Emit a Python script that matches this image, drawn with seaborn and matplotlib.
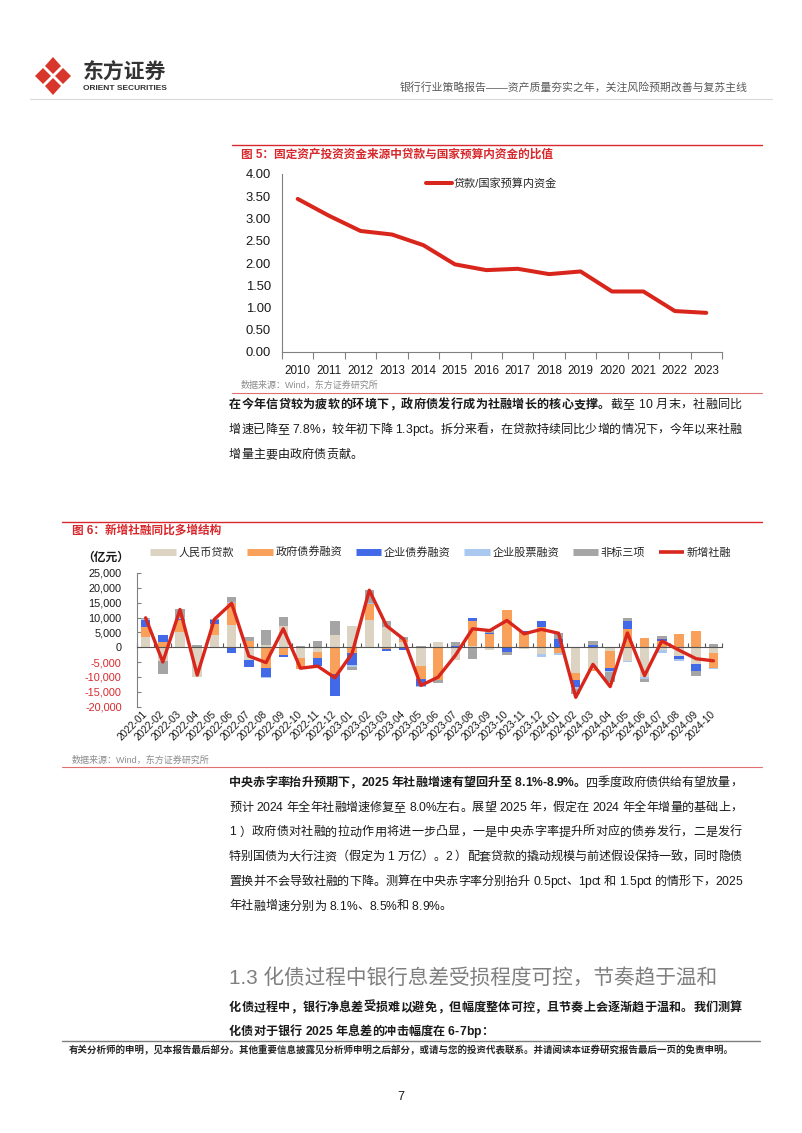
import numpy as np
import pandas as pd
import matplotlib
matplotlib.use("Agg")
import matplotlib.pyplot as plt
import seaborn as sns
from matplotlib.lines import Line2D
from matplotlib.patches import Polygon

# ---------------- data ----------------
years = ['2010', '2011', '2012', '2013', '2014', '2015', '2016',
         '2017', '2018', '2019', '2020', '2021', '2022', '2023']
loan_budget_ratio = [3.44, 3.06, 2.72, 2.64, 2.40, 1.97, 1.84,
                     1.87, 1.75, 1.81, 1.36, 1.36, 0.92, 0.88]

months = ['2022-01', '2022-02', '2022-03', '2022-04', '2022-05', '2022-06',
          '2022-07', '2022-08', '2022-09', '2022-10', '2022-11', '2022-12',
          '2023-01', '2023-02', '2023-03', '2023-04', '2023-05', '2023-06',
          '2023-07', '2023-08', '2023-09', '2023-10', '2023-11', '2023-12',
          '2024-01', '2024-02', '2024-03', '2024-04', '2024-05', '2024-06',
          '2024-07', '2024-08', '2024-09', '2024-10']
rmb_loans = [3500, -4800, 5200, -9900, 4000, 7400, -4400, 700, 7000, -3600,
             -1600, 4000, 7200, 9100, 6900, 1800, -6300, 1700, -4400, 300,
             -1100, 0, -600, -2200, 200, -8800, -7300, -1300, -4600, -9900,
             -800, -2900, -5700, -1800]
gov_bonds = [3400, 1800, 3900, 200, 3700, 7500, 2000, -6900, -2500, -3600,
             -1900, -9100, -2000, 5400, -500, 500, -4500, -10900, 0, 8600,
             4400, 12500, 5000, 6700, -1800, -2100, -800, -5600, 6000, 3000,
             2000, 4400, 5300, -5300]
corp_bonds = [2200, 2300, 500, 0, 1300, -1800, -2200, -3100, -800, 0,
              -2900, -7300, -4000, 200, -700, -800, -2300, 0, 300, 1100,
              400, -1500, 500, 2000, 2500, -2400, 800, -1100, 2700, 0,
              900, -1100, -2500, 0]
corp_equity = [300, 0, 300, 0, 200, 300, 0, -300, 0, 0,
               0, 0, -800, 300, 0, 0, -200, 0, 0, -200,
               0, -200, 0, -1000, -700, -800, 0, -500, -300, -800,
               -1000, -600, 0, -300]
non_standard = [600, -4400, 2800, 500, 400, 1600, 1300, 5000, 3200, 300,
                2000, 4800, -800, 4200, 1800, 1000, 300, -1100, 1300, -3800,
                900, -900, 0, 0, 2200, -1800, 1400, -3300, 1000, -900,
                800, 0, -1500, 1000]
new_tsf = [9900, -5000, 12700, -9400, 9400, 14800, -3000, -5200, 6200, -7100,
           -6400, -10300, -2100, 19200, 7200, 2700, -12900, -10100, -2800, 6200,
           5600, 9000, 4500, 6000, 4700, -16900, -5800, -13300, 4800, -9600,
           2100, -1000, -3900, -4600]
series_names = ['人民币贷款', '政府债券融资', '企业债券融资', '企业股票融资', '非标三项', '新增社融']
y2_ticks = [-20000, -15000, -10000, -5000, 0, 5000, 10000, 15000, 20000, 25000]
y1_ticks = [0.0, 0.5, 1.0, 1.5, 2.0, 2.5, 3.0, 3.5, 4.0]

# ---------------- style ----------------
sns.set_theme(style="white")
FAM = ['Liberation Sans', 'Noto Sans CJK SC', 'DejaVu Sans']
plt.rcParams['font.family'] = FAM
plt.rcParams['axes.unicode_minus'] = False

RED = '#D9261C'
TITLE_RED = '#D8282C'
C_LOAN = '#DDD3C3'
C_GOV = '#F9A05A'
C_CORP = '#4169E8'
C_EQ = '#A8C8F0'
C_NS = '#A5A5A5'
TXT = '#1A1A1A'
GRAY = '#808080'

W, H = 802, 1133
fig = plt.figure(figsize=(W / 100, H / 100), dpi=100)
fig.patch.set_facecolor('white')


def fx(x):
    return x / W


def fy(y):
    return 1 - y / H


def hline(y, x0, x1, color, lw):
    fig.add_artist(Line2D([fx(x0), fx(x1)], [fy(y), fy(y)], color=color, lw=lw,
                          transform=fig.transFigure))


renderer = fig.canvas.get_renderer()
_cache = {}


def text_w(s, weight, size):
    t = fig.text(0, 0, s, fontsize=size, fontweight=weight)
    w = t.get_window_extent(renderer=renderer).width
    t.remove()
    return w


def char_w(c, weight, size):
    key = (c, weight, size)
    if key not in _cache:
        if c == ' ':
            _cache[key] = text_w('x x', weight, size) - text_w('xx', weight, size)
        else:
            _cache[key] = text_w(c, weight, size)
    return _cache[key]


def draw_line(y, segs, x0=229, x1=742, size=8.7, justify=True, color=TXT):
    chars = [(c, wt) for s, wt in segs for c in s]
    ws = [char_w(c, wt, size) for c, wt in chars]
    extra = (x1 - x0 - sum(ws)) / (len(chars) - 1) if (justify and len(chars) > 1) else 0
    x = x0
    for (c, wt), w in zip(chars, ws):
        if c != ' ':
            fig.text(fx(x), fy(y), c, fontsize=size, fontweight=wt, color=color,
                     ha='left', va='baseline')
        x += w + extra


# ---------------- header ----------------
logo_parts = [
    [(53, 57), (61, 66), (53, 74), (45, 66)],
    [(43, 68), (51, 76), (43, 84), (35, 76)],
    [(63, 68), (71, 76), (63, 84), (55, 76)],
    [(53, 78), (61, 86), (53, 95), (45, 86)],
]
for pts in logo_parts:
    fig.add_artist(Polygon([(fx(a), fy(b)) for a, b in pts], closed=True,
                           facecolor='#D9362B', edgecolor='none',
                           transform=fig.transFigure))
fig.text(fx(83), fy(73), '东方证券', fontsize=15, fontweight='bold', color='#333333',
         ha='left', va='center')
fig.text(fx(83), fy(88), 'ORIENT SECURITIES', fontsize=6, fontweight='bold', color='#333333',
         ha='left', va='center')
fig.text(fx(748), fy(87), '银行行业策略报告——资产质量夯实之年，关注风险预期改善与复苏主线',
         fontsize=7.8, color='#595959', ha='right', va='center')
hline(99, 30, 772, '#D9D9D9', 0.8)

# ---------------- chart 1 ----------------
hline(145, 232, 762, TITLE_RED, 1.0)
fig.text(fx(241), fy(155), '图 5：固定资产投资资金来源中贷款与国家预算内资金的比值',
         fontsize=8.4, fontweight='bold', color=TITLE_RED, ha='left', va='center')

ax1 = fig.add_axes([fx(282), fy(352), (722 - 282) / W, (352 - 174) / H])
df1 = pd.DataFrame({'pos': np.arange(len(years)), 'ratio': loan_budget_ratio})
sns.lineplot(data=df1, x='pos', y='ratio', ax=ax1, color=RED, lw=2.9,
             label='贷款/国家预算内资金')
ax1.set_xlim(-0.5, len(years) - 0.5)
ax1.set_ylim(0, 4)
ax1.set_yticks(y1_ticks)
ax1.set_yticklabels([f'{v:.2f}' for v in y1_ticks], fontsize=9.4, color=TXT)
ax1.set_xticks(np.arange(len(years)))
ax1.set_xticklabels(years, fontsize=8.4, color=TXT)
ax1.set_xticks(np.arange(-0.5, len(years), 1), minor=True)
ax1.tick_params(axis='x', which='major', length=0, pad=9)
ax1.tick_params(axis='x', which='minor', length=5, direction='out', color=GRAY, width=0.8, bottom=True)
ax1.tick_params(axis='y', length=0, pad=8)
ax1.set_xlabel('')
ax1.set_ylabel('')
for s in ['top', 'right']:
    ax1.spines[s].set_visible(False)
for s in ['left', 'bottom']:
    ax1.spines[s].set_color(GRAY)
    ax1.spines[s].set_linewidth(0.8)
ax1.legend(loc='upper left', bbox_to_anchor=(fx(426), fy(178)), bbox_transform=fig.transFigure,
           frameon=False, fontsize=8, handlelength=2.3, handletextpad=0.2, borderaxespad=0,
           borderpad=0)
fig.text(fx(241), fy(385), '数据来源：Wind，东方证券研究所', fontsize=6.5, color='#8C8C8C',
         ha='left', va='center')
hline(393, 232, 762, '#E07070', 0.8)

# ---------------- paragraph 1 ----------------
draw_line(408, [('在今年信贷较为疲软的环境下，政府债发行成为社融增长的核心支撑。', 'bold'),
                ('截至 10 月末，社融同比', 'normal')])
draw_line(433, [('增速已降至 7.8%，较年初下降 1.3pct。拆分来看，在贷款持续同比少增的情况下，今年以来社融', 'normal')])
draw_line(458, [('增量主要由政府债贡献。', 'normal')], justify=False)

# ---------------- chart 2 ----------------
hline(522, 62, 762, TITLE_RED, 1.0)
fig.text(fx(72), fy(531), '图 6：新增社融同比多增结构', fontsize=8.4, fontweight='bold',
         color=TITLE_RED, ha='left', va='center')
fig.text(fx(106), fy(558), '（亿元）', fontsize=8.5, fontweight='bold', color=TXT,
         ha='center', va='center')

ax2 = fig.add_axes([fx(137), fy(706.5), (722 - 137) / W, (706.5 - 573) / H])
xpos = np.arange(len(months))
pos_base = np.zeros(len(months))
neg_base = np.zeros(len(months))
components = [(rmb_loans, C_LOAN), (gov_bonds, C_GOV), (corp_bonds, C_CORP),
              (corp_equity, C_EQ), (non_standard, C_NS)]
for vals, col in components:
    v = np.asarray(vals, dtype=float)
    bottom = np.where(v >= 0, pos_base, neg_base)
    ax2.bar(xpos, v, bottom=bottom, width=0.55, color=col, linewidth=0, zorder=2)
    pos_base += np.clip(v, 0, None)
    neg_base += np.clip(v, None, 0)
df2 = pd.DataFrame({'pos': xpos, 'tsf': new_tsf})
sns.lineplot(data=df2, x='pos', y='tsf', ax=ax2, color=RED, lw=2.4, zorder=4)

ax2.set_xlim(-0.5, len(months) - 0.5)
ax2.set_ylim(-20000, 25000)
ax2.set_yticks(y2_ticks)
ax2.set_yticklabels([f'{v:,}' for v in y2_ticks], fontsize=7.8)
for lab, v in zip(ax2.get_yticklabels(), y2_ticks):
    lab.set_color(TITLE_RED if v < 0 else TXT)
ax2.tick_params(axis='y', length=3, direction='in', color=GRAY, width=0.8, pad=11, left=True)
ax2.spines['bottom'].set_position(('data', 0))
ax2.set_xticks(np.arange(-0.5, len(months), 1))
ax2.set_xticklabels([])
ax2.set_xticks(xpos, minor=True)
ax2.set_xticklabels(months, minor=True, fontsize=7.3, color=TXT)
ax2.tick_params(axis='x', which='major', length=3, direction='in', color='#555555', width=0.8,
                bottom=True)
ax2.tick_params(axis='x', which='minor', length=0, pad=47, labelrotation=45, bottom=True)
for lab in ax2.get_xticklabels(minor=True):
    lab.set_ha('right')
    lab.set_va('center')
    lab.set_rotation_mode('anchor')
ax2.set_xlabel('')
ax2.set_ylabel('')
for s in ['top', 'right']:
    ax2.spines[s].set_visible(False)
ax2.spines['left'].set_color(GRAY)
ax2.spines['left'].set_linewidth(0.8)
ax2.spines['bottom'].set_color('#555555')
ax2.spines['bottom'].set_linewidth(0.8)
handles = [Line2D([], [], color=C_LOAN, lw=5, solid_capstyle='butt'),
           Line2D([], [], color=C_GOV, lw=5, solid_capstyle='butt'),
           Line2D([], [], color=C_CORP, lw=5, solid_capstyle='butt'),
           Line2D([], [], color=C_EQ, lw=5, solid_capstyle='butt'),
           Line2D([], [], color=C_NS, lw=5, solid_capstyle='butt'),
           Line2D([], [], color=RED, lw=2.6, solid_capstyle='butt')]
ax2.legend(handles, series_names, loc='center left', bbox_to_anchor=(fx(150), fy(552)),
           bbox_transform=fig.transFigure, ncol=6, frameon=False, fontsize=8,
           handlelength=2.3, handletextpad=0.25, columnspacing=1.2, borderaxespad=0,
           borderpad=0)
fig.text(fx(72), fy(760), '数据来源：Wind，东方证券研究所', fontsize=6.5, color='#8C8C8C',
         ha='left', va='center')
hline(767, 62, 762, '#E07070', 0.8)

# ---------------- paragraph 2 ----------------
base = 786
step = 24.7
draw_line(base, [('中央赤字率抬升预期下，2025 年社融增速有望回升至 8.1%-8.9%。', 'bold'),
                 ('四季度政府债供给有望放量，', 'normal')])
draw_line(base + step, [('预计 2024 年全年社融增速修复至 8.0%左右。展望 2025 年，假定在 2024 年全年增量的基础上，', 'normal')])
draw_line(base + 2 * step, [('1 ）政府债对社融的拉动作用将进一步凸显，一是中央赤字率提升所对应的债券发行，二是发行', 'normal')])
draw_line(base + 3 * step, [('特别国债为大行注资（假定为 1 万亿）。2 ）配套贷款的撬动规模与前述假设保持一致，同时隐债', 'normal')])
draw_line(base + 4 * step, [('置换并不会导致社融的下降。测算在中央赤字率分别抬升 0.5pct、1pct 和 1.5pct 的情形下，2025', 'normal')])
draw_line(base + 5 * step, [('年社融增速分别为 8.1%、8.5%和 8.9%。', 'normal')], justify=False)

# ---------------- section heading ----------------
fig.text(fx(229), fy(984), '1.3 化债过程中银行息差受损程度可控，节奏趋于温和', fontsize=14.9,
         color='#7F7F7F', ha='left', va='baseline')
draw_line(1011, [('化债过程中，银行净息差受损难以避免，但幅度整体可控，且节奏上会逐渐趋于温和。我们测算', 'bold')])
draw_line(1035, [('化债对于银行 2025 年息差的冲击幅度在 6-7bp：', 'bold')], justify=False)

# ---------------- footer ----------------
hline(1041, 62, 760, '#7F7F7F', 1.0)
fig.text(fx(401), fy(1050), '有关分析师的申明，见本报告最后部分。其他重要信息披露见分析师申明之后部分，或请与您的投资代表联系。并请阅读本证券研究报告最后一页的免责申明。',
         fontsize=6.8, fontweight='bold', color='#262626', ha='center', va='center')
fig.text(fx(401), fy(1097), '7', fontsize=9, color=TXT, ha='center', va='center')

fig.savefig('out.png', dpi=100, facecolor='white')
